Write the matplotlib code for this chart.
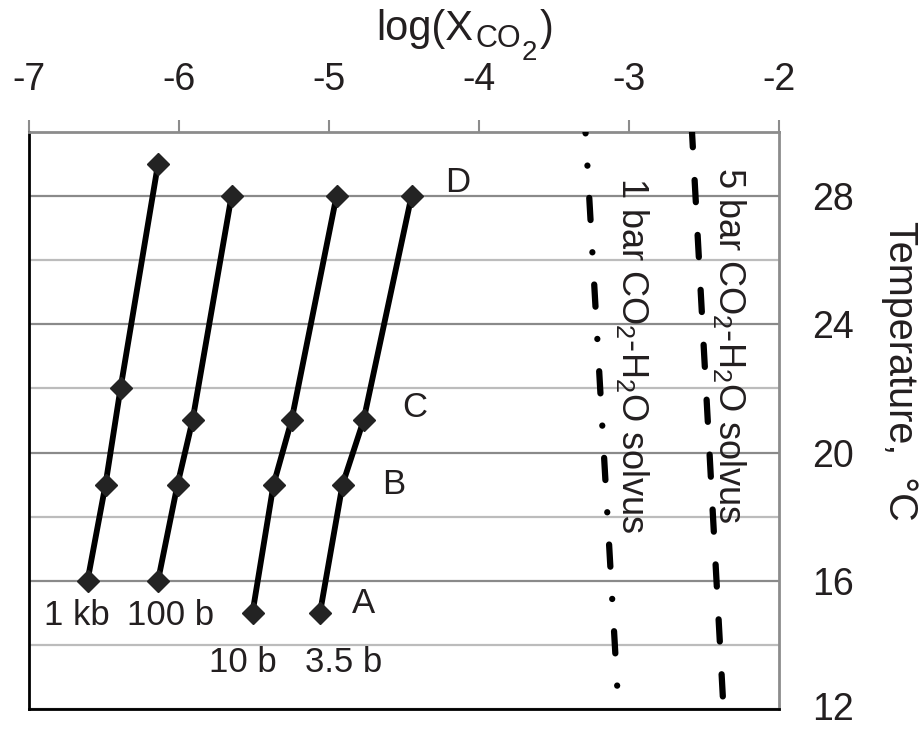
import numpy as np
import matplotlib
matplotlib.use("Agg")
import matplotlib.pyplot as plt
from matplotlib.transforms import ScaledTranslation

# data
temps_1kb = [29, 22, 19, 16]
logx_1kb = [-6.14, -6.39, -6.49, -6.61]
temps_100b = [28, 21, 19, 16]
logx_100b = [-5.65, -5.91, -6.01, -6.14]
temps_10b = [28, 21, 19, 15]
logx_10b = [-4.95, -5.25, -5.37, -5.51]
temps_35b = [28, 21, 19, 15]
logx_35b = [-4.45, -4.77, -4.91, -5.06]
point_labels = ["D", "C", "B", "A"]

solvus_T = [30, 12]
solvus_1bar = [-3.29, -3.07]
solvus_5bar = [-2.58, -2.37]

x_ticks = [-7, -6, -5, -4, -3, -2]
t_major = [12, 16, 20, 24, 28]
t_minor = [14, 18, 22, 26]

plt.rcParams['font.family'] = ['Liberation Sans', 'DejaVu Sans']
plt.rcParams['mathtext.fontset'] = 'custom'
plt.rcParams['mathtext.rm'] = 'Liberation Sans'
plt.rcParams['mathtext.it'] = 'Liberation Sans:italic'
plt.rcParams['lines.scale_dashes'] = False
plt.rcParams['text.color'] = '#231f20'

W, H = 924, 729
fs = 27
fig = plt.figure(figsize=(W/100, H/100), dpi=100)
ax = fig.add_axes([29/W, 1-709/H, (779-29)/W, (709-132)/H])
ax.set_xlim(-7, -2)
ax.set_ylim(12, 30)

# axes styling
ax.xaxis.tick_top()
ax.set_xticks(x_ticks)
ax.set_xticklabels([str(v) for v in x_ticks])
ax.tick_params(axis='x', direction='out', length=8.6, width=1.5, color='#8c8c8c',
               labelsize=fs, pad=16, labelcolor='#231f20')
ax.yaxis.tick_right()
ax.set_yticks(t_major)
ax.set_yticks(t_minor, minor=True)
ax.tick_params(axis='y', which='both', length=0, labelsize=fs, pad=24, labelcolor='#231f20')
ax.grid(which='major', axis='y', color='#8a8a8a', lw=1.6)
ax.grid(which='minor', axis='y', color='#bcbcbc', lw=1.6)
ax.set_axisbelow(True)
for side in ['left', 'bottom']:
    ax.spines[side].set_color('black')
    ax.spines[side].set_linewidth(2)
for side in ['top', 'right']:
    ax.spines[side].set_color('#8c8c8c')
    ax.spines[side].set_linewidth(2)

# isobars
series = [(logx_1kb, temps_1kb), (logx_100b, temps_100b),
          (logx_10b, temps_10b), (logx_35b, temps_35b)]
for xs, ts in series:
    ax.plot(xs, ts, color='black', lw=4.2, solid_capstyle='butt', zorder=3)
    ax.plot(xs, ts, ls='none', marker='D', ms=11.5, color='#232323', zorder=4)

# pressure labels under the lowest points
kw = dict(textcoords='offset points', ha='center', va='center', fontsize=25)
ax.annotate("1 kb", (logx_1kb[-1], temps_1kb[-1]), xytext=(-8, -25), **kw)
ax.annotate("100 b", (logx_100b[-1], temps_100b[-1]), xytext=(9, -25), **kw)
ax.annotate("10 b", (logx_10b[-1], temps_10b[-1]), xytext=(-7, -36), **kw)
ax.annotate("3.5 b", (logx_35b[-1], temps_35b[-1]), xytext=(17, -36), **kw)

# letters next to the 3.5 b points
offsets = [(33, 10), (37, 9), (37, 0), (31, 7)]
for lab, x, t, off in zip(point_labels, logx_35b, temps_35b, offsets):
    ax.annotate(lab, (x, t), xytext=off, **kw)

# solvus lines
ax.plot(solvus_1bar, solvus_T, color='black', lw=4.5, dash_capstyle='round',
        ls=(15, (16, 23.2, 0.1, 23.2)), zorder=3)
ax.plot(solvus_5bar, solvus_T, color='black', lw=4.5, dash_capstyle='round',
        ls=(5, (16, 23.6)), zorder=3)
ax.text(-2.975, 28.6, "1 bar CO$_2$-H$_2$O solvus", rotation=270, ha='center', va='top',
        fontsize=26)
ax.text(-2.33, 28.9, "5 bar CO$_2$-H$_2$O solvus", rotation=270, ha='center', va='top',
        fontsize=26)

# title log(X_CO2) built from pieces so the subscripts keep a readable size
renderer = fig.canvas.get_renderer()
pieces = [("log(X", 30, 40, 0), ("CO", 22, 47, 2), ("2", 20, 60, 1), (")", 30, 40, 3)]
xpos = 376
for s, size, base, gap in pieces:
    t = fig.text((xpos + gap)/W, 1-base/H, s, fontsize=size, ha='left', va='baseline')
    xpos = t.get_window_extent(renderer).x1

fig.text(900/W, 1-371/H, "Temperature,  °C", rotation=270, ha='center', va='center',
         fontsize=28.5)

# keep the lowest temperature label inside the canvas
for lab in ax.get_yticklabels():
    if lab.get_text() == "12":
        lab.set_transform(lab.get_transform() + ScaledTranslation(0, 2/72, fig.dpi_scale_trans))

fig.savefig("out.png", dpi=100)
